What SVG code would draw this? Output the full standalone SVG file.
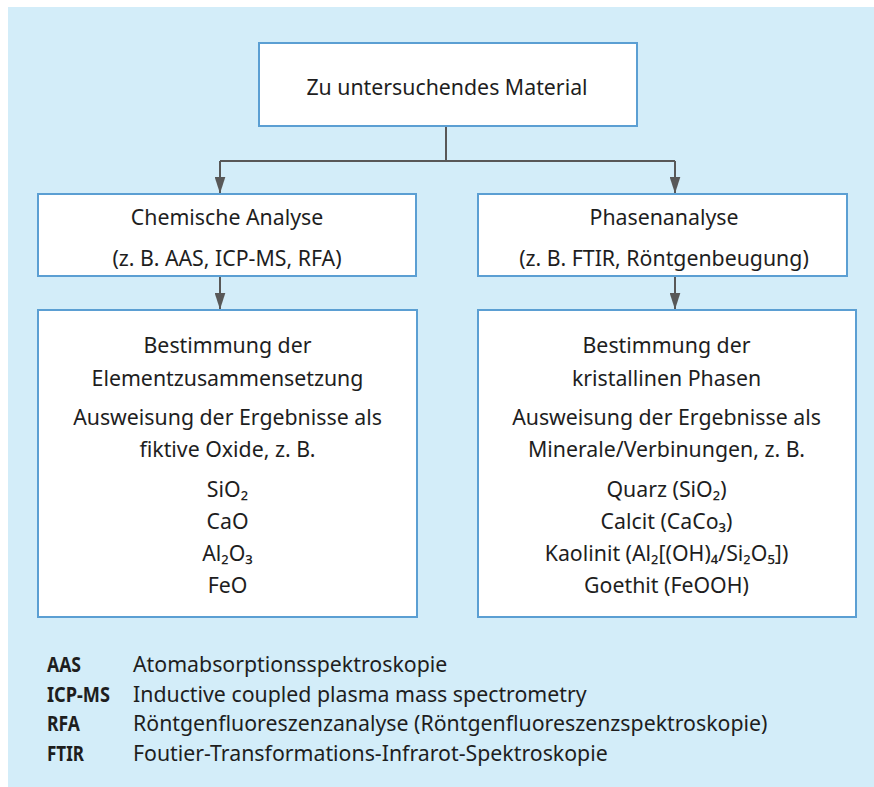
<svg xmlns="http://www.w3.org/2000/svg" width="874" height="787" viewBox="0 0 874 787">
<defs>
<style>
.bg{fill:#d3edf9}
.box{fill:#ffffff;stroke:#5b9fd3;stroke-width:2}
.t{font-family:"Noto Sans","Open Sans",sans-serif;font-size:21.3px;fill:#1e1e1e;text-anchor:middle}
.lg{font-family:"Noto Sans","Open Sans",sans-serif;font-size:21.3px;fill:#1e1e1e}
.lb{font-weight:bold}
.conn{fill:none;stroke:#585858;stroke-width:2}
</style>
<marker id="arr" viewBox="0 0 17 11" refX="16.5" refY="5.5" markerWidth="17" markerHeight="11" markerUnits="userSpaceOnUse" orient="auto">
<path d="M0,0 L17,5.5 L0,11 Z" fill="#585858"/>
</marker>
</defs>
<rect class="bg" x="8" y="7" width="866" height="780"/>
<g id="connectors">
<path class="conn" d="M446,126 V161"/>
<path class="conn" d="M220,161 H675"/>
<path class="conn" d="M220,161 V193" marker-end="url(#arr)"/>
<path class="conn" d="M675,161 V193" marker-end="url(#arr)"/>
<path class="conn" d="M220,276 V309" marker-end="url(#arr)"/>
<path class="conn" d="M675,276 V309" marker-end="url(#arr)"/>
</g>
<g id="material">
<rect class="box" x="259" y="43" width="378" height="83"/>
<text class="t" x="447" y="95">Zu untersuchendes Material</text>
</g>
<g id="chemische-analyse">
<rect class="box" x="38" y="194" width="378" height="82"/>
<text class="t" x="227" y="225">Chemische Analyse</text>
<text class="t" x="227" y="266">(z. B. AAS, ICP-MS, RFA)</text>
</g>
<g id="phasenanalyse">
<rect class="box" x="478" y="194" width="369" height="82"/>
<text class="t" x="664" y="225">Phasenanalyse</text>
<text class="t" x="664" y="266">(z. B. FTIR, Röntgenbeugung)</text>
</g>
<g id="elementzusammensetzung">
<rect class="box" x="38" y="310" width="379" height="307"/>
<text class="t" x="227.5" y="353">Bestimmung der</text>
<text class="t" x="227.5" y="386">Elementzusammensetzung</text>
<text class="t" x="227.5" y="425">Ausweisung der Ergebnisse als</text>
<text class="t" x="227.5" y="457">fiktive Oxide, z. B.</text>
<text class="t" x="227.5" y="497">SiO₂</text>
<text class="t" x="227.5" y="529">CaO</text>
<text class="t" x="227.5" y="561">Al₂O₃</text>
<text class="t" x="227.5" y="593">FeO</text>
</g>
<g id="kristalline-phasen">
<rect class="box" x="478" y="310" width="378" height="307"/>
<text class="t" x="666.5" y="353">Bestimmung der</text>
<text class="t" x="666.5" y="386">kristallinen Phasen</text>
<text class="t" x="666.5" y="425">Ausweisung der Ergebnisse als</text>
<text class="t" x="666.5" y="457">Minerale/Verbinungen, z. B.</text>
<text class="t" x="666.5" y="497">Quarz (SiO₂)</text>
<text class="t" x="666.5" y="529">Calcit (CaCo₃)</text>
<text class="t" x="666.5" y="561">Kaolinit (Al₂[(OH)₄/Si₂O₅])</text>
<text class="t" x="666.5" y="593">Goethit (FeOOH)</text>
</g>
<g id="legend">
<text class="lg lb" x="47" y="672" textLength="34" lengthAdjust="spacingAndGlyphs">AAS</text>
<text class="lg" x="133" y="672">Atomabsorptionsspektroskopie</text>
<text class="lg lb" x="47" y="701.5" textLength="63" lengthAdjust="spacingAndGlyphs">ICP-MS</text>
<text class="lg" x="133" y="701.5">Inductive coupled plasma mass spectrometry</text>
<text class="lg lb" x="47" y="731" textLength="33" lengthAdjust="spacingAndGlyphs">RFA</text>
<text class="lg" x="133" y="731">Röntgenfluoreszenzanalyse (Röntgenfluoreszenzspektroskopie)</text>
<text class="lg lb" x="47" y="760.5" textLength="37" lengthAdjust="spacingAndGlyphs">FTIR</text>
<text class="lg" x="133" y="760.5">Foutier-Transformations-Infrarot-Spektroskopie</text>
</g>
</svg>
